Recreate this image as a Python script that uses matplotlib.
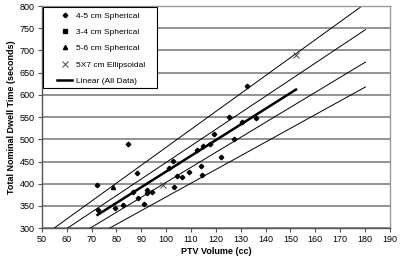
import matplotlib
matplotlib.use("Agg")
import matplotlib.pyplot as plt
from matplotlib.patches import Rectangle

plt.rcParams['font.family'] = ['Liberation Sans', 'DejaVu Sans']

# 4-5 cm spherical
sph45_x = [72.3, 72.5, 79.5, 82.6, 84.8, 86.8, 88.4, 88.5, 91.1, 92.2, 92.2, 94.2,
           101.2, 102.9, 103.3, 104.5, 106.4, 109.3, 112.3, 114.0, 114.3, 115.0,
           117.8, 119.2, 121.9, 127.4, 125.3, 130.4, 132.4, 136.0]
sph45_y = [397, 340, 346, 352, 489, 382, 424, 369, 355, 380, 385, 382,
           435, 451, 393, 418, 416, 427, 475, 441, 420, 484,
           489, 511, 461, 501, 551, 540, 620, 547]
# 3-4 cm spherical (not distinguishable in picture)
sph34_x = []
sph34_y = []
# 5-6 cm spherical
sph56_x = [78.5]
sph56_y = [392]
# 5x7 cm ellipsoidal
ell_x = [98.9, 152.2]
ell_y = [397, 689]

# linear fit (all data), endpoints
fit_x = [72.4, 152.2]
fit_y = [330, 612]

# guide lines
guide_x = [[54.9, 180.0], [60.3, 180.2], [69.4, 180.2], [77.2, 180.2]]
guide_y = [[300, 805], [300, 747], [300, 674], [300, 618]]

fig = plt.figure(figsize=(4.02, 2.62), dpi=100)
ax = fig.add_axes([0.104, 0.129, 0.866, 0.848])

for gx, gy in zip(guide_x, guide_y):
    ax.plot(gx, gy, color='black', lw=0.7, zorder=2)

ax.plot(sph45_x, sph45_y, 'D', color='black', ms=2.3, ls='none', label='4-5 cm Spherical', zorder=3)
ax.plot(sph34_x, sph34_y, 's', color='black', ms=2.5, ls='none', label='3-4 cm Spherical', zorder=3)
ax.plot(sph56_x, sph56_y, '^', color='black', ms=3.0, ls='none', label='5-6 cm Spherical', zorder=3)
ax.plot(ell_x, ell_y, 'x', color='#444444', ms=4.5, mew=0.7, ls='none', label='5X7 cm Ellipsoidal', zorder=3)
ax.plot(fit_x, fit_y, color='black', lw=1.8, label='Linear (All Data)', zorder=4)

ax.set_xlim(50, 190)
ax.set_ylim(300, 800)
ax.set_xticks(range(50, 191, 10))
ax.set_yticks(range(300, 801, 50))
ax.yaxis.grid(True, color='#808080', lw=1.2)
ax.set_axisbelow(True)

for s in ['left', 'bottom']:
    ax.spines[s].set_color('#555555')
    ax.spines[s].set_linewidth(1.0)
for s in ['top', 'right']:
    ax.spines[s].set_color('#999999')
    ax.spines[s].set_linewidth(1.0)
ax.tick_params(axis='both', labelsize=6.5, length=3, width=0.8, color='#555555', pad=2)

ax.set_xlabel('PTV Volume (cc)', fontsize=6.5, fontweight='bold', labelpad=2)
ax.set_ylabel('Total Nominal Dwell Time (seconds)', fontsize=6.5, fontweight='bold', labelpad=3)

# legend box drawn separately, entries placed inside it
box = Rectangle((0.004, 0.630), 0.328, 0.367, transform=ax.transAxes,
                facecolor='white', edgecolor='black', lw=0.8, zorder=5)
ax.add_patch(box)
leg = ax.legend(loc='upper left', bbox_to_anchor=(0.045, 0.972), fontsize=6,
                frameon=False, borderaxespad=0, borderpad=0,
                handlelength=1.7, labelspacing=1.0, handletextpad=0.5)
leg.set_zorder(6)

fig.savefig('out.png', dpi=100)
